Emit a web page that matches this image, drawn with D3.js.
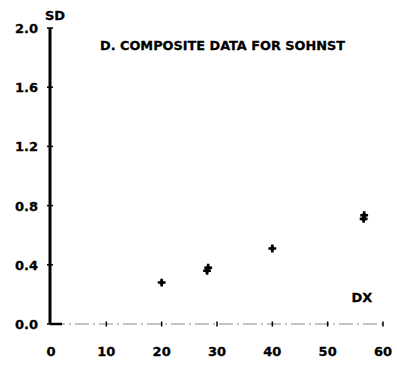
<!DOCTYPE html>
<html>
<head>
<meta charset="utf-8">
<script src="https://cdn.jsdelivr.net/npm/d3@7"></script>
<style>
  body { margin: 0; background: #fff; }
  text { font-family: "DejaVu Sans", sans-serif; font-weight: bold; fill: #000; stroke: #000; stroke-width: 0.3; }
</style>
</head>
<body>
<div id="chart"></div>
<script>
// composite data (overlapping points make the bigger blobs)
let dxValues = [20, 28.2, 28.4, 40, 56.5, 56.6];
let sdValues = [0.28, 0.36, 0.38, 0.51, 0.71, 0.735];
let xTicks = [0, 10, 20, 30, 40, 50, 60];
let yTicks = [0.0, 0.4, 0.8, 1.2, 1.6, 2.0];

let svg = d3.select("#chart").append("svg")
  .attr("width", 397)
  .attr("height", 366);

let x = d3.scaleLinear().domain([0, 60]).range([51, 383]);
let y = d3.scaleLinear().domain([0, 2]).range([324, 28]);

// x axis: thin dash-dot line
svg.append("line")
  .attr("x1", x(0)).attr("x2", x(60))
  .attr("y1", y(0)).attr("y2", y(0))
  .style("stroke", "#888")
  .style("stroke-width", 1)
  .style("stroke-dasharray", "14,4,2,4");
// short heavy stub at the origin
svg.append("line")
  .attr("x1", x(0) - 1).attr("x2", x(2))
  .attr("y1", y(0)).attr("y2", y(0))
  .style("stroke", "#000")
  .style("stroke-width", 2.5);

// y axis: heavy line
svg.append("line")
  .attr("x1", x(0) - 1).attr("x2", x(0) - 1)
  .attr("y1", y(2)).attr("y2", y(0))
  .style("stroke", "#000")
  .style("stroke-width", 3);

// small tick marks
svg.selectAll(".xt")
  .data(xTicks.slice(1))
  .enter().append("line")
  .attr("x1", d => x(d)).attr("x2", d => x(d))
  .attr("y1", y(0) - 2.5).attr("y2", y(0) + 2.5)
  .style("stroke", "#000").style("stroke-width", 1.5);
svg.selectAll(".yt")
  .data(yTicks)
  .enter().append("line")
  .attr("x1", x(0) - 4).attr("x2", x(0) + 2)
  .attr("y1", d => y(d)).attr("y2", d => y(d))
  .style("stroke", "#000").style("stroke-width", 1.5);

// tick labels
svg.selectAll(".xl")
  .data(xTicks)
  .enter().append("text")
  .attr("x", d => x(d))
  .attr("y", 356)
  .attr("text-anchor", "middle")
  .style("font-size", "13px")
  .text(d => d);
svg.selectAll(".yl")
  .data(yTicks)
  .enter().append("text")
  .attr("x", 38)
  .attr("y", d => y(d) + 5)
  .attr("text-anchor", "end")
  .style("font-size", "13px")
  .text(d => d.toFixed(1));

// axis names and title
svg.append("text").attr("x", 55).attr("y", 20)
  .attr("text-anchor", "middle").style("font-size", "13px").text("SD");
svg.append("text").attr("x", 362).attr("y", 302)
  .attr("text-anchor", "middle").style("font-size", "13px").text("DX");
svg.append("text").attr("x", 100).attr("y", 50)
  .attr("textLength", 245).attr("lengthAdjust", "spacingAndGlyphs")
  .style("font-size", "13px")
  .text("D. COMPOSITE DATA FOR SOHNST");

// points as small plus-shaped blobs
let cross = d3.symbol().type(d3.symbolCross).size(34);
let pts = svg.selectAll(".pt")
  .data(dxValues)
  .enter().append("g")
  .attr("transform", (d, i) => "translate(" + x(d) + "," + y(sdValues[i]) + ")");
pts.append("path").attr("d", cross).style("fill", "#000");
pts.append("circle").attr("r", 2.3).style("fill", "#000");
</script>
</body>
</html>
